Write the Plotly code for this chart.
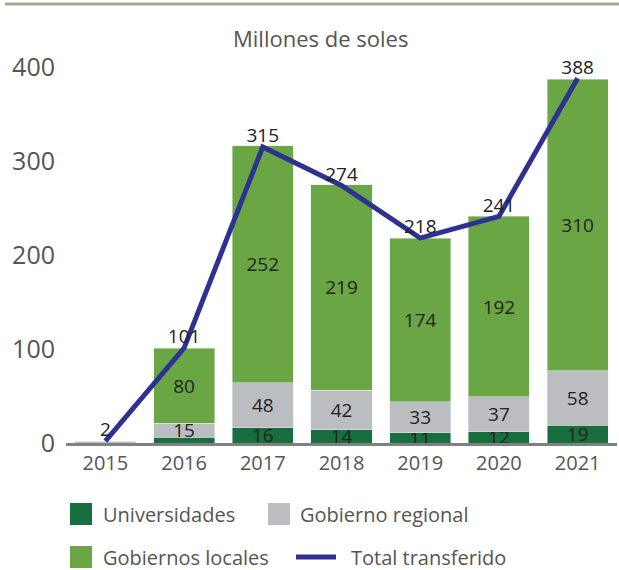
import plotly.graph_objects as go

# ---- data ----
years = ["2015", "2016", "2017", "2018", "2019", "2020", "2021"]
universidades = [0, 6, 16, 14, 11, 12, 19]
gobierno_regional = [2, 15, 48, 42, 33, 37, 58]
gobiernos_locales = [0, 80, 252, 219, 174, 192, 310]
total_transferido = [2, 101, 315, 274, 218, 241, 388]
y_ticks = [0, 100, 200, 300, 400]

names = ["Universidades", "Gobierno regional", "Gobiernos locales", "Total transferido"]
colors = ["#186f3d", "#bcbdc0", "#6aa643", "#2e3192"]

FONT = "Open Sans"
TXT = "#555555"
LBL = "#222222"

W, H = 619, 570
ML, MR, MT, MB = 66, 2, 67, 127
PW, PH = W - ML - MR, H - MT - MB

def px(x):
    return (x - ML) / PW

def py(y):
    return (H - MB - y) / PH

fig = go.Figure()

for vals, name, col in [(universidades, names[0], colors[0]),
                        (gobierno_regional, names[1], colors[1]),
                        (gobiernos_locales, names[2], colors[2])]:
    fig.add_trace(go.Bar(
        x=years, y=vals, name=name, marker_color=col,
        text=[str(v) if v >= 10 else "" for v in vals],
        textposition="inside", insidetextanchor="middle", textangle=0,
        textfont=dict(size=19, color=LBL, family=FONT), showlegend=False,
    ))

fig.add_trace(go.Scatter(
    x=years, y=total_transferido, name=names[3], mode="lines+text",
    line=dict(color=colors[3], width=5),
    text=[str(v) for v in total_transferido], textposition="top center",
    textfont=dict(size=19, color=LBL, family=FONT), cliponaxis=False,
    showlegend=False,
))

shapes = []
annotations = []

# top decorative rule
shapes.append(dict(type="line", xref="paper", yref="paper",
                   x0=px(5), x1=px(619), y0=py(4), y1=py(4),
                   line=dict(color="#a3a88f", width=3)))

# title
annotations.append(dict(text="Millones de soles", xref="paper", yref="paper",
                        x=px(320), y=py(38), xanchor="center", yanchor="middle",
                        showarrow=False, font=dict(size=22, color=TXT, family=FONT)))

# legend (manual, two rows)
legend_items = [
    (names[0], colors[0], "box", 70, 514, 101),
    (names[1], colors[1], "box", 268, 514, 298),
    (names[2], colors[2], "box", 70, 557, 101),
    (names[3], colors[3], "line", 296, 557, 349),
]
for name, col, kind, x0, yc, tx in legend_items:
    if kind == "box":
        shapes.append(dict(type="rect", xref="paper", yref="paper",
                           x0=px(x0), x1=px(x0 + 22), y0=py(yc - 11), y1=py(yc + 11),
                           fillcolor=col, line=dict(width=0)))
    else:
        shapes.append(dict(type="line", xref="paper", yref="paper",
                           x0=px(x0), x1=px(x0 + 40), y0=py(yc), y1=py(yc),
                           line=dict(color=col, width=5)))
    annotations.append(dict(text=name, xref="paper", yref="paper",
                            x=px(tx), y=py(yc), xanchor="left", yanchor="middle",
                            showarrow=False, font=dict(size=20, color=TXT, family=FONT)))

fig.update_layout(
    width=W, height=H,
    margin=dict(l=ML, r=MR, t=MT, b=MB),
    barmode="stack", bargap=0.224,
    plot_bgcolor="white", paper_bgcolor="white",
    font=dict(family=FONT, color=TXT),
    shapes=shapes, annotations=annotations,
    uniformtext=dict(minsize=19, mode="show"),
    xaxis=dict(showgrid=False, showline=True, linecolor="#808080", linewidth=3,
               ticks="", tickfont=dict(size=20, color=TXT, family=FONT),
               fixedrange=True),
    yaxis=dict(range=[0, 400], tickvals=y_ticks, showgrid=False, zeroline=False,
               showline=False, ticks="", ticklabelstandoff=10,
               tickfont=dict(size=25, color=TXT, family=FONT), fixedrange=True),
)

fig.write_html("out.html", config={"displayModeBar": False},
               post_script="document.body.style.margin='0';document.body.style.overflow='hidden';")
